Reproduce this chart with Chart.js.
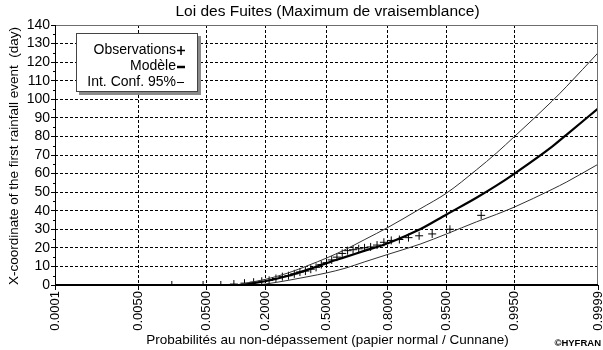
<!DOCTYPE html>
<html>
<head>
<meta charset="utf-8">
<script src="https://cdn.jsdelivr.net/npm/chart.js@4/dist/chart.umd.min.js"></script>
<style>
  html, body { margin: 0; padding: 0; background: #fff; }
  #wrap { width: 603px; height: 350px; }
</style>
</head>
<body>
<div id="wrap"><canvas id="c" width="603" height="350"></canvas></div>
<script>
// Probability ticks printed on the normal-paper axis
const probTicks = [0.0001, 0.005, 0.05, 0.2, 0.5, 0.8, 0.95, 0.995, 0.9999];

// Observations (sorted) and their Cunnane plotting positions, n = 35
const obsProb = [0.01705, 0.04545, 0.07386, 0.10227, 0.13068, 0.15909, 0.18750,
  0.21591, 0.24432, 0.27273, 0.30114, 0.32955, 0.35795, 0.38636, 0.41477,
  0.44318, 0.47159, 0.50000, 0.52841, 0.55682, 0.58523, 0.61364, 0.64205,
  0.67045, 0.69886, 0.72727, 0.75568, 0.78409, 0.81250, 0.84091, 0.86932,
  0.89773, 0.92614, 0.95455, 0.98295];
const obsValues = [0, 0, 0, 0.5, 1, 1.5, 2, 2.5, 3.5, 4.5, 5, 6, 7, 7.5, 8.5,
  9.5, 11, 12, 13.5, 15, 17, 18.5, 19, 19.5, 20, 20.5, 21.5, 23, 24, 24.5,
  25.5, 26.5, 27.5, 30, 37.5];

// Fitted model quantiles
const modelProb = [0.0001, 0.12, 0.15, 0.2, 0.3, 0.4, 0.5, 0.6, 0.7, 0.8, 0.9,
  0.95, 0.98, 0.99, 0.995, 0.999, 0.9995, 0.9999];
const modelValues = [0, 0, 0.8, 2, 5, 8.3, 11.8, 15, 18.5, 22.5, 30, 38, 47,
  53.5, 60, 74.5, 81, 95];

// 95 % confidence band
const upperProb = [0.0001, 0.1, 0.15, 0.2, 0.3, 0.4, 0.5, 0.6, 0.7, 0.8, 0.9,
  0.95, 0.98, 0.99, 0.995, 0.999, 0.9995, 0.9999];
const upperValues = [0, 0, 1.5, 3, 6.5, 10.5, 14.5, 19, 24.5, 31, 41, 49.5, 62,
  71, 80, 99, 107, 125];
const lowerProb = [0.0001, 0.17, 0.2, 0.3, 0.4, 0.5, 0.6, 0.7, 0.8, 0.9, 0.95,
  0.98, 0.99, 0.995, 0.999, 0.9995, 0.9999];
const lowerValues = [0, 0, 0.5, 2.5, 4.5, 6.5, 9, 12.5, 16.5, 22, 27.5, 34, 38,
  42, 51.5, 55.5, 65];

const FONT = "'Liberation Sans', Arial, sans-serif";

// Inverse standard normal CDF (Acklam)
function probit(p) {
  const a = [-3.969683028665376e+01, 2.209460984245205e+02, -2.759285104469687e+02,
    1.383577518672690e+02, -3.066479806614716e+01, 2.506628277459239e+00];
  const b = [-5.447609879822406e+01, 1.615858368580409e+02, -1.556989798598866e+02,
    6.680131188771972e+01, -1.328068155288572e+01];
  const c = [-7.784894002430293e-03, -3.223964580411365e-01, -2.400758277161838e+00,
    -2.549732539343734e+00, 4.374664141464968e+00, 2.938163982698783e+00];
  const d = [7.784695709041462e-03, 3.224671290700398e-01, 2.445134137142996e+00,
    3.754408661907416e+00];
  const pl = 0.02425;
  let q, r;
  if (p < pl) {
    q = Math.sqrt(-2 * Math.log(p));
    return (((((c[0]*q+c[1])*q+c[2])*q+c[3])*q+c[4])*q+c[5]) /
           ((((d[0]*q+d[1])*q+d[2])*q+d[3])*q+1);
  }
  if (p <= 1 - pl) {
    q = p - 0.5; r = q * q;
    return (((((a[0]*r+a[1])*r+a[2])*r+a[3])*r+a[4])*r+a[5])*q /
           (((((b[0]*r+b[1])*r+b[2])*r+b[3])*r+b[4])*r+1);
  }
  q = Math.sqrt(-2 * Math.log(1 - p));
  return -(((((c[0]*q+c[1])*q+c[2])*q+c[3])*q+c[4])*q+c[5]) /
          ((((d[0]*q+d[1])*q+d[2])*q+d[3])*q+1);
}
function normCdf(z) {
  const t = 1 / (1 + 0.2316419 * Math.abs(z));
  const y = 0.3989423 * Math.exp(-z * z / 2) *
    t * (0.3193815 + t * (-0.3565638 + t * (1.781478 + t * (-1.821256 + t * 1.330274))));
  return z > 0 ? 1 - y : y;
}

// Normal probability paper scale
class ProbitScale extends Chart.Scale {
  determineDataLimits() {
    const mm = this.getMinMax(true);
    this.min = this.options.min != null ? this.options.min : mm.min;
    this.max = this.options.max != null ? this.options.max : mm.max;
  }
  buildTicks() {
    return (this.options.tickValues || []).map(v => ({ value: v }));
  }
  getLabelForValue(v) { return Number(v).toFixed(4); }
  configure() {
    super.configure();
    this._zmin = probit(this.min);
    this._zrange = probit(this.max) - this._zmin;
  }
  getPixelForValue(v) {
    return this.getPixelForDecimal((probit(v) - this._zmin) / this._zrange);
  }
  getValueForPixel(px) {
    return normCdf(this._zmin + this.getDecimalForPixel(px) * this._zrange);
  }
}
ProbitScale.id = 'probit';
ProbitScale.defaults = {};
Chart.register(ProbitScale);

const pts = (xs, ys) => xs.map((x, i) => ({ x: x, y: ys[i] }));

// Titles, frame, minor ticks and the floating legend
const decorations = {
  id: 'decorations',
  afterDraw(chart) {
    const { ctx, chartArea: a, scales } = chart;
    const ys = scales.y;
    ctx.save();
    // frame
    ctx.strokeStyle = '#6e6e6e';
    ctx.lineWidth = 1;
    ctx.beginPath();
    ctx.moveTo(a.left, a.top + 0.5);
    ctx.lineTo(a.right - 0.5, a.top + 0.5);
    ctx.lineTo(a.right - 0.5, a.bottom);
    ctx.stroke();
    ctx.strokeStyle = '#000';
    ctx.beginPath();
    ctx.moveTo(a.left + 0.5, a.top);
    ctx.lineTo(a.left + 0.5, a.bottom);
    ctx.stroke();
    ctx.lineWidth = 2;
    ctx.beginPath();
    ctx.moveTo(a.left, a.bottom);
    ctx.lineTo(a.right, a.bottom);
    ctx.stroke();
    // minor y ticks
    ctx.lineWidth = 1;
    ctx.beginPath();
    for (let v = 5; v < 140; v += 10) {
      const y = Math.round(ys.getPixelForValue(v)) + 0.5;
      ctx.moveTo(a.left - 2, y);
      ctx.lineTo(a.left, y);
    }
    ctx.stroke();

    ctx.fillStyle = '#000';
    ctx.textAlign = 'center';
    ctx.textBaseline = 'middle';
    // chart title
    ctx.font = '15.5px ' + FONT;
    ctx.fillText('Loi des Fuites (Maximum de vraisemblance)', (a.left + a.right) / 2 + 1, 12);
    // x title
    ctx.font = '13.5px ' + FONT;
    ctx.fillText('Probabilités au non-dépassement (papier normal / Cunnane)', (a.left + a.right) / 2 + 1, 340);
    // y title
    ctx.save();
    ctx.translate(14, (a.top + a.bottom) / 2 + 1);
    ctx.rotate(-Math.PI / 2);
    ctx.fillText('X-coordinate of the first rainfall event  (day)', 0, 0);
    ctx.restore();
    // credit
    ctx.font = 'bold 9.5px ' + FONT;
    ctx.textAlign = 'right';
    ctx.fillText('©HYFRAN', 601, 343);

    // legend box with shadow
    const bx = 76, by = 33, bw = 122, bh = 59;
    ctx.fillStyle = '#8a8a8a';
    ctx.fillRect(bx + 3, by + 3, bw, bh);
    ctx.fillStyle = '#fff';
    ctx.fillRect(bx, by, bw, bh);
    ctx.strokeStyle = '#444';
    ctx.lineWidth = 1;
    ctx.strokeRect(bx + 0.5, by + 0.5, bw - 1, bh - 1);

    ctx.fillStyle = '#000';
    ctx.font = '14px ' + FONT;
    ctx.textAlign = 'right';
    ctx.textBaseline = 'middle';
    const tx = 176;
    ctx.fillText('Observations', tx, 50);
    ctx.fillText('Modèle', tx, 66);
    ctx.fillText('Int. Conf. 95%', tx, 82);
    ctx.strokeStyle = '#000';
    // observation marker
    ctx.lineWidth = 1.5;
    ctx.beginPath();
    ctx.moveTo(tx + 1, 50.5); ctx.lineTo(tx + 9, 50.5);
    ctx.moveTo(tx + 5, 46); ctx.lineTo(tx + 5, 55);
    ctx.stroke();
    // model line
    ctx.lineWidth = 2.5;
    ctx.beginPath();
    ctx.moveTo(tx + 1, 67); ctx.lineTo(tx + 9, 67);
    ctx.stroke();
    // confidence line
    ctx.lineWidth = 1;
    ctx.beginPath();
    ctx.moveTo(tx + 1, 82.5); ctx.lineTo(tx + 8, 82.5);
    ctx.stroke();
    ctx.restore();
  }
};

new Chart(document.getElementById('c'), {
  type: 'line',
  data: {
    datasets: [
      {
        label: 'Int. Conf. 95% (sup.)',
        data: pts(upperProb, upperValues),
        borderColor: '#303030', borderWidth: 1, pointRadius: 0,
        cubicInterpolationMode: 'monotone', fill: false
      },
      {
        label: 'Int. Conf. 95% (inf.)',
        data: pts(lowerProb, lowerValues),
        borderColor: '#303030', borderWidth: 1, pointRadius: 0,
        cubicInterpolationMode: 'monotone', fill: false
      },
      {
        label: 'Modèle',
        data: pts(modelProb, modelValues),
        borderColor: '#000', borderWidth: 2.2, pointRadius: 0,
        cubicInterpolationMode: 'monotone', fill: false
      },
      {
        label: 'Observations',
        data: pts(obsProb, obsValues),
        showLine: false, pointStyle: 'cross', pointRadius: 4,
        borderColor: '#000', pointBorderColor: '#000', pointBorderWidth: 1
      }
    ]
  },
  options: {
    responsive: false,
    devicePixelRatio: 1,
    animation: false,
    events: [],
    layout: { padding: { top: 25, right: 5, left: 0, bottom: 0 } },
    plugins: { legend: { display: false }, tooltip: { enabled: false }, title: { display: false } },
    scales: {
      x: {
        type: 'probit',
        min: 0.0001, max: 0.9999,
        tickValues: probTicks,
        border: { display: false, dash: [3, 2] },
        grid: {
          color: c => (c.index === 0 || c.index === probTicks.length - 1) ? 'rgba(0,0,0,0)' : '#000',
          lineWidth: 1, tickLength: 5, tickColor: '#000', tickWidth: 1
        },
        ticks: {
          autoSkip: false, maxRotation: 90, minRotation: 90, padding: 1,
          color: '#000', font: { family: FONT, size: 13 },
          callback: v => Number(v).toFixed(4)
        },
        afterFit: s => { s.height = 65; s.paddingLeft = 0; s.paddingRight = 0; }
      },
      y: {
        type: 'linear',
        min: 0, max: 140,
        border: { display: false, dash: [3, 2] },
        grid: {
          color: c => (c.tick && (c.tick.value === 0 || c.tick.value === 140)) ? 'rgba(0,0,0,0)' : '#000',
          lineWidth: 1, tickLength: 4, tickColor: '#000', tickWidth: 1
        },
        ticks: {
          stepSize: 10, autoSkip: false, padding: 1, color: '#000',
          font: { family: FONT, size: 14 }
        },
        afterFit: s => { s.width = 55; }
      }
    }
  },
  plugins: [decorations]
});
</script>
</body>
</html>
